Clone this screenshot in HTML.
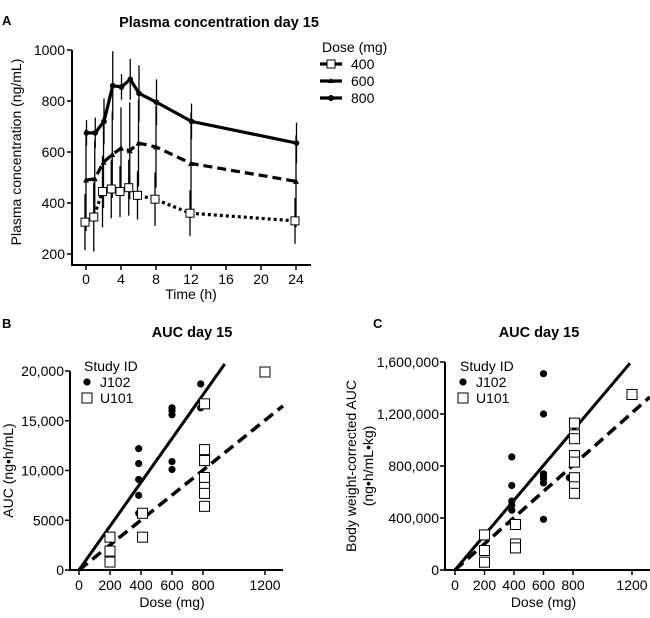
<!DOCTYPE html>
<html><head><meta charset="utf-8"><style>
body{margin:0;background:#fff;}
svg{font-family:"Liberation Sans",Arial,sans-serif;}
</style></head><body>
<svg id="fig" width="650" height="613" viewBox="0 0 650 613" xmlns="http://www.w3.org/2000/svg">
<g id="A"></g><g id="B"></g><g id="C"></g>
</svg>
<script>
// Panel A data
const timesA = [0,1,2,3,4,5,6,8,12,24];
const conc400 = [325,345,445,455,445,460,430,415,360,330];
const err400 = [110,135,140,115,100,110,95,105,90,90];
const conc600 = [490,495,560,590,615,605,635,620,555,485];
const err600 = [200,150,180,170,160,190,170,160,200,180];
const conc800 = [675,675,720,860,855,885,830,795,720,635];
const err800 = [50,60,90,135,50,80,110,90,70,80];
const ticksAx = [0,4,8,12,16,20,24];
const ticksAy = [200,400,600,800,1000];
// Panel B data
const bJdose = [385,385,385,385,385,600,600,600,600,600,785,785];
const bJauc = [12200,10700,9100,7500,5700,16300,16000,15600,10900,10100,18700,16300];
const bUdose = [200,200,200,410,410,810,810,810,810,810,810,810,1200];
const bUauc = [3300,1900,800,5700,3300,16700,12100,11000,9300,8300,7700,6400,19900];
const bFitJ = [0,940,0,20700];
const bFitU = [0,1316,0,16500];
const ticksBx = [0,200,400,600,800,1200];
const ticksBy = [0,5000,10000,15000,20000];
const ticksByLbl = ["0","5000","10,000","15,000","20,000"];
// Panel C data
const cJdose = [385,385,385,385,385,385,600,600,600,600,600,600,600,775];
const cJauc = [870000,650000,530000,500000,460000,370000,1510000,1200000,740000,720000,700000,670000,390000,710000];
const cUdose = [200,200,200,410,410,410,810,810,810,810,810,810,810,810,1200];
const cUauc = [270000,150000,60000,350000,200000,170000,1130000,1040000,1010000,880000,830000,710000,640000,590000,1350000];
const cFitJ = [0,1186,0,1590000];
const cFitU = [0,1320,0,1330000];
const ticksCx = [0,200,400,600,800,1200];
const ticksCy = [0,400000,800000,1200000,1600000];
const ticksCyLbl = ["0","400,000","800,000","1,200,000","1,600,000"];

const NS="http://www.w3.org/2000/svg";
function mk(parent,tag,attrs,text){const e=document.createElementNS(NS,tag);for(const k in attrs)e.setAttribute(k,attrs[k]);if(text!==undefined)e.textContent=text;parent.appendChild(e);return e;}

// ---- Panel A ----
const gA=document.getElementById('A');
const axA=t=>86+t*8.75, ayA=v=>254-(v-200)*0.255;
let e;
e=mk(gA,'text',{x:2,y:25,'font-size':13,'font-weight':'bold'},'A');

e=mk(gA,'text',{x:219,y:27,'font-size':14.5,'font-weight':'bold','text-anchor':'middle'},'Plasma concentration day 15');

e=mk(gA,'line',{x1:72,y1:ayA(1000),x2:72,y2:266,stroke:'#000','stroke-width':2});

e=mk(gA,'line',{x1:71,y1:265,x2:311,y2:265,stroke:'#000','stroke-width':2});

ticksAy.forEach(v=>{mk(gA,'line',{x1:67,x2:72,y1:ayA(v),y2:ayA(v),stroke:'#000','stroke-width':1.5});
 e=mk(gA,'text',{x:65,y:ayA(v)+5,'font-size':14,'text-anchor':'end'},String(v));
 });
ticksAx.forEach(t=>{mk(gA,'line',{x1:axA(t),x2:axA(t),y1:265,y2:270,stroke:'#000','stroke-width':1.5});
 e=mk(gA,'text',{x:axA(t),y:284,'font-size':14,'text-anchor':'middle'},String(t));
 });
e=mk(gA,'text',{x:191,y:299,'font-size':14,'text-anchor':'middle'},'Time (h)');

e=mk(gA,'text',{x:0,y:0,'font-size':14,'text-anchor':'middle',transform:'translate(21,152) rotate(-90)'},'Plasma concentration (ng/mL)');

function seriesA(vals,errs,dash,off,name,marker){
 errs.forEach((er,i)=>{e=mk(gA,'line',{x1:axA(timesA[i])+off,x2:axA(timesA[i])+off,y1:ayA(vals[i]-er),y2:ayA(vals[i]+er),stroke:'#000','stroke-width':1.3});
  });
 const pts=vals.map((v,i)=>(axA(timesA[i])+off)+','+ayA(v)).join(' ');
 e=mk(gA,'polyline',{points:pts,fill:'none',stroke:'#000','stroke-width':3.2,'stroke-dasharray':dash});
 
 vals.forEach((v,i)=>{const x=axA(timesA[i])+off,y=ayA(v);
  if(marker==='sq')e=mk(gA,'rect',{x:x-4,y:y-4,width:8,height:8,fill:'#fff',stroke:'#000','stroke-width':1});
  else if(marker==='tri')e=mk(gA,'path',{d:`M${x-3},${y+2.5}L${x+3},${y+2.5}L${x},${y-3}Z`,fill:'#000'});
  else e=mk(gA,'circle',{cx:x,cy:y,r:2.8,fill:'#000'});
  });
}
seriesA(conc600,err600,'9,5',0,'dose-600','tri');
seriesA(conc800,err800,'',0.5,'dose-800','circ');
seriesA(conc400,err400,'3,3',-1,'dose-400','sq');
e=mk(gA,'text',{x:322,y:52,'font-size':14},'Dose (mg)');

[['400','3,2','sq'],['600','','tri'],['800','','circ']].forEach((d,i)=>{const y=64+i*17;
 const g=mk(gA,'g',{});
 mk(g,'line',{x1:320,x2:342,y1:y,y2:y,stroke:'#000','stroke-width':3.2});
 if(d[2]==='sq')mk(g,'rect',{x:327,y:y-4,width:8,height:8,fill:'#fff',stroke:'#000'});
 else if(d[2]==='tri')mk(g,'path',{d:`M${328},${y+2}L${334},${y+2}L${331},${y-3}Z`,fill:'#000'});
 else mk(g,'circle',{cx:331,cy:y,r:3,fill:'#000'});
 mk(g,'text',{x:351,y:y+5,'font-size':14},d[0]);});

// ---- scatter panels ----
function scatter(gid,o){
 const g=document.getElementById(gid);
 const ax=d=>o.x0+d*o.sx, ay=v=>o.yb-v*o.sy;
 e=mk(g,'text',{x:o.lx,y:o.ly,'font-size':13,'font-weight':'bold'},o.letter);
 
 e=mk(g,'text',{x:o.tx,y:o.ly+9,'font-size':14.5,'font-weight':'bold','text-anchor':'middle'},'AUC day 15');
 
 e=mk(g,'line',{x1:o.yax,x2:o.yax,y1:ay(o.yt[o.yt.length-1]),y2:o.yb+1,stroke:'#000','stroke-width':2});
 
 e=mk(g,'line',{x1:o.yax-1,x2:o.xend,y1:o.yb,y2:o.yb,stroke:'#000','stroke-width':2});
 
 o.yt.forEach((v,i)=>{mk(g,'line',{x1:o.yax-5,x2:o.yax,y1:ay(v),y2:ay(v),stroke:'#000','stroke-width':1.5});
  e=mk(g,'text',{x:o.yax-6,y:ay(v)+5,'font-size':14,'text-anchor':'end'},o.ytl[i]);
  });
 o.xt.forEach(d=>{mk(g,'line',{x1:ax(d),x2:ax(d),y1:o.yb,y2:o.yb+5,stroke:'#000','stroke-width':1.5});
  e=mk(g,'text',{x:ax(d),y:o.yb+20,'font-size':14,'text-anchor':'middle'},String(d));
  });
 e=mk(g,'text',{x:ax(600),y:o.yb+37,'font-size':14,'text-anchor':'middle'},'Dose (mg)');
 
 o.ytitle.forEach((t,i)=>{e=mk(g,'text',{x:0,y:0,'font-size':14,'text-anchor':'middle',transform:`translate(${o.ytx+i*17},${(o.yb+ay(o.yt[o.yt.length-1]))/2}) rotate(-90)`},t);
  });
 e=mk(g,'line',{x1:ax(o.fj[0]),x2:ax(o.fj[1]),y1:ay(o.fj[2]),y2:ay(o.fj[3]),stroke:'#000','stroke-width':3});
 
 e=mk(g,'line',{x1:ax(o.fu[0]),x2:ax(o.fu[1]),y1:ay(o.fu[2]),y2:ay(o.fu[3]),stroke:'#000','stroke-width':3.5,'stroke-dasharray':'11,6'});
 
 o.jd.forEach((d,i)=>{e=mk(g,'circle',{cx:ax(d),cy:ay(o.ja[i]),r:3.6,fill:'#000'});
  });
 o.ud.forEach((d,i)=>{e=mk(g,'rect',{x:ax(d)-5,y:ay(o.ua[i])-5,width:10,height:10,fill:'#fff',stroke:'#000','stroke-width':1});
  });
 const lx=o.legx, ly=o.legy;
 e=mk(g,'text',{x:lx+2,y:ly,'font-size':14},'Study ID');
 
 let le=mk(g,'g',{});
 mk(le,'circle',{cx:lx+5,cy:ly+11,r:3.6,fill:'#000'});mk(le,'text',{x:lx+18,y:ly+16,'font-size':14},'J102');
 le=mk(g,'g',{});
 mk(le,'rect',{x:lx,y:ly+22,width:10,height:10,fill:'#fff',stroke:'#000'});mk(le,'text',{x:lx+18,y:ly+32,'font-size':14},'U101');
}
scatter('B',{letter:'B',lx:2,ly:328,tx:192,x0:79,sx:0.155,yb:570,sy:199/20000,yax:70,xend:283,yt:ticksBy,ytl:ticksByLbl,xt:ticksBx,
 ytitle:['AUC (ng\u2022h/mL)'],ytx:13,fj:bFitJ,fu:bFitU,jd:bJdose,ja:bJauc,ud:bUdose,ua:bUauc,legx:82,legy:371});
scatter('C',{letter:'C',lx:373,ly:328,tx:539,x0:455,sx:0.1475,yb:570,sy:208/1600000,yax:445,xend:650,yt:ticksCy,ytl:ticksCyLbl,xt:ticksCx,
 ytitle:['Body weight-corrected AUC','(ng\u2022h/mL\u2022kg)'],ytx:356,fj:cFitJ,fu:cFitU,jd:cJdose,ja:cJauc,ud:cUdose,ua:cUauc,legx:458,legy:371});
</script>
</body></html>
